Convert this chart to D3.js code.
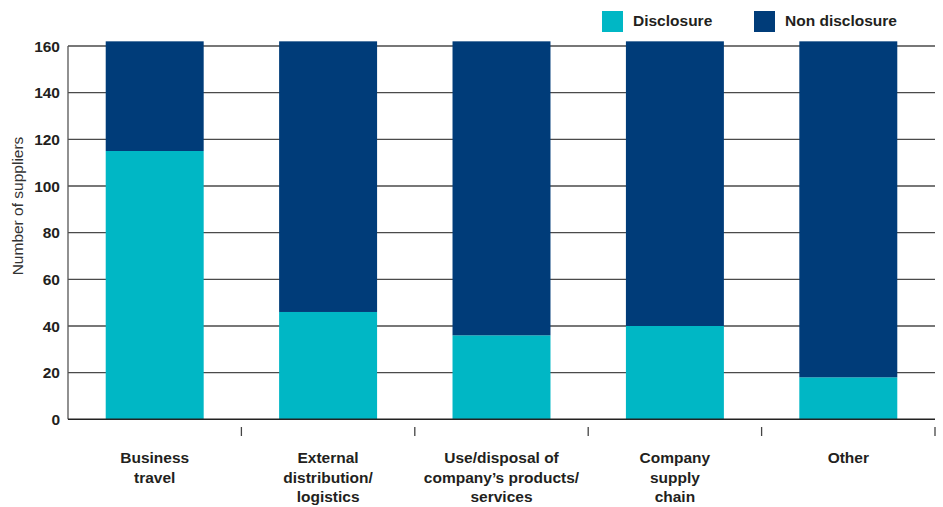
<!DOCTYPE html>
<html>
<head>
<meta charset="utf-8">
<script src="https://cdn.jsdelivr.net/npm/d3@7"></script>
<style>
  html, body { margin: 0; padding: 0; background: #fff; }
  svg { display: block; }
  text { font-family: "Liberation Sans", Arial, Helvetica, sans-serif; }
</style>
</head>
<body>
<svg id="chart" width="943" height="507"></svg>
<script>
const categories = [
  ["Business", "travel"],
  ["External", "distribution/", "logistics"],
  ["Use/disposal of", "company\u2019s products/", "services"],
  ["Company", "supply", "chain"],
  ["Other"]
];
const categoryKeys = ["Business travel", "External distribution/logistics", "Use/disposal of company\u2019s products/services", "Company supply chain", "Other"];
const disclosure = [115, 46, 36, 40, 18];
const nonDisclosure = [47, 116, 126, 122, 144];
const yTicks = [0, 20, 40, 60, 80, 100, 120, 140, 160];
const seriesNames = ["Disclosure", "Non disclosure"];
const seriesColors = ["#00b7c5", "#003c79"];

(function () {
const svg = d3.select("#chart");
const plotLeft = 68, plotRight = 935, plotTop = 46, plotBottom = 419.3;

const x = d3.scaleBand().domain(categoryKeys).range([plotLeft, plotRight]).paddingInner(0.435).paddingOuter(0.2175);
const y = d3.scaleLinear().domain([0, 160]).range([plotBottom, plotTop]);

// gridlines
svg.append("g").selectAll("line").data(yTicks.filter(d => d > 0)).join("line")
  .attr("x1", plotLeft).attr("x2", plotRight)
  .attr("y1", d => y(d)).attr("y2", d => y(d))
  .attr("stroke", "#4a4a4a").attr("stroke-width", 1.3);

// y axis line
svg.append("line").attr("x1", plotLeft).attr("x2", plotLeft).attr("y1", plotTop).attr("y2", plotBottom)
  .attr("stroke", "#555").attr("stroke-width", 1.3);

// bars
const rows = categoryKeys.map((k, i) => ({ key: k, Disclosure: disclosure[i], "Non disclosure": nonDisclosure[i] }));
const stack = d3.stack().keys(seriesNames)(rows);
svg.append("g").selectAll("g").data(stack).join("g")
  .attr("fill", (d, i) => seriesColors[i])
  .selectAll("rect").data(d => d).join("rect")
  .attr("x", d => x(d.data.key))
  .attr("width", x.bandwidth())
  .attr("y", d => y(d[1]))
  .attr("height", d => y(d[0]) - y(d[1]));

// baseline
svg.append("line").attr("x1", plotLeft).attr("x2", plotRight).attr("y1", y(0)).attr("y2", y(0))
  .attr("stroke", "#222").attr("stroke-width", 1.5);

// y tick labels
svg.append("g").selectAll("text").data(yTicks).join("text")
  .attr("x", 60).attr("y", d => y(d)).attr("dy", "0.36em")
  .attr("text-anchor", "end")
  .attr("font-size", "15.5px").attr("font-weight", "bold").attr("fill", "#231f20")
  .text(d => d);

// bottom separator ticks at band boundaries
const boundaries = categoryKeys.map(k => x(k) + x.bandwidth() + x.step() * x.paddingInner() / 2);
svg.append("g").selectAll("line").data(boundaries).join("line")
  .attr("x1", d => d).attr("x2", d => d)
  .attr("y1", 427).attr("y2", 436)
  .attr("stroke", "#444").attr("stroke-width", 1.3);

// category labels
const lab = svg.append("g").selectAll("text").data(categories).join("text")
  .attr("x", (d, i) => x(categoryKeys[i]) + x.bandwidth() / 2)
  .attr("y", 463)
  .attr("text-anchor", "middle")
  .attr("font-size", "15.5px").attr("font-weight", "bold").attr("fill", "#231f20");
lab.selectAll("tspan").data(d => d).join("tspan")
  .attr("x", function () { return d3.select(this.parentNode).attr("x"); })
  .attr("dy", (d, i) => i === 0 ? 0 : 19.5)
  .text(d => d);

// y axis title
svg.append("text")
  .attr("transform", "translate(23, 206) rotate(-90)")
  .attr("text-anchor", "middle")
  .attr("font-size", "15.5px").attr("fill", "#333")
  .text("Number of suppliers");

// legend
const legendX = [602, 754];
const lg = svg.append("g").selectAll("g").data(seriesNames).join("g")
  .attr("transform", (d, i) => `translate(${legendX[i]}, 11)`);
lg.append("rect").attr("width", 21).attr("height", 21).attr("fill", (d, i) => seriesColors[i]);
lg.append("text").attr("x", 31).attr("y", 15)
  .attr("font-size", "15.5px").attr("font-weight", "bold").attr("fill", "#231f20")
  .text(d => d);
})();
</script>
</body>
</html>
